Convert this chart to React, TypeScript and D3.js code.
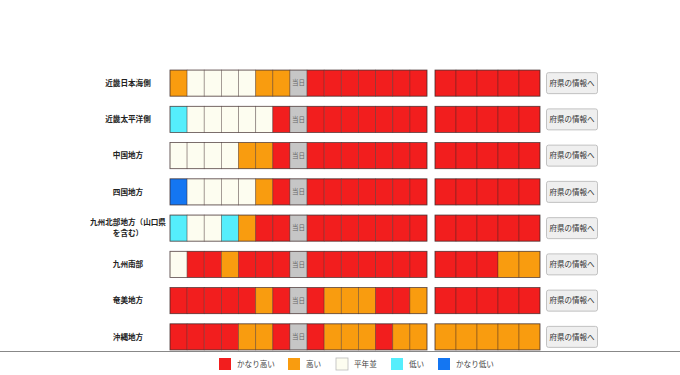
import React from "react";
import * as d3 from "d3";

// levels: 5 かなり高い, 4 高い, 3 平年並, 2 低い, 1 かなり低い, 0 当日
const regions = [
  "近畿日本海側",
  "近畿太平洋側",
  "中国地方",
  "四国地方",
  "九州北部地方（山口県を含む）",
  "九州南部",
  "奄美地方",
  "沖縄地方",
];

const dailyLevels = [
  [4, 3, 3, 3, 3, 4, 4, 0, 5, 5, 5, 5, 5, 5, 5],
  [2, 3, 3, 3, 3, 3, 5, 0, 5, 5, 5, 5, 5, 5, 5],
  [3, 3, 3, 3, 4, 4, 5, 0, 5, 5, 5, 5, 5, 5, 5],
  [1, 3, 3, 3, 3, 4, 5, 0, 5, 5, 5, 5, 5, 5, 5],
  [2, 3, 3, 2, 4, 5, 5, 0, 5, 5, 5, 5, 5, 5, 5],
  [3, 5, 5, 4, 5, 5, 5, 0, 5, 5, 5, 5, 5, 5, 5],
  [5, 5, 5, 5, 5, 4, 5, 0, 5, 4, 4, 4, 5, 5, 4],
  [5, 5, 5, 5, 4, 4, 5, 0, 5, 4, 4, 4, 5, 4, 4],
];

const periodLevels = [
  [5, 5, 5, 5, 5],
  [5, 5, 5, 5, 5],
  [5, 5, 5, 5, 5],
  [5, 5, 5, 5, 5],
  [5, 5, 5, 5, 5],
  [5, 5, 5, 4, 4],
  [5, 5, 5, 5, 5],
  [4, 4, 4, 4, 4],
];

const legendLevels = [5, 4, 3, 2, 1];
const legendNames = ["かなり高い", "高い", "平年並", "低い", "かなり低い"];

const todayLabel = "当日";
const buttonLabel = "府県の情報へ";

const color = d3
  .scaleOrdinal<number, string>()
  .domain([5, 4, 3, 2, 1, 0])
  .range(["#f21e1e", "#f99c0f", "#fdfdf0", "#55eefc", "#1476f2", "#c6c6c6"]);

const font = "'Noto Sans CJK JP', 'Noto Sans', sans-serif";

const wrap = (s: string, n: number) => {
  const out: string[] = [];
  for (let i = 0; i < s.length; i += n) out.push(s.slice(i, i + n));
  return out;
};

const App = () => {
  const width = 680;
  const height = 375;

  const y = d3
    .scaleBand<number>()
    .domain(d3.range(regions.length))
    .range([65, 355])
    .paddingInner(0.28)
    .paddingOuter(0.14);
  const xDay = d3
    .scaleBand<number>()
    .domain(d3.range(dailyLevels[0].length))
    .range([170, 427]);
  const xPer = d3
    .scaleBand<number>()
    .domain(d3.range(periodLevels[0].length))
    .range([435, 540]);
  const legendX = d3
    .scaleOrdinal<number, number>()
    .domain(legendLevels)
    .range([219, 288, 336, 391, 438]);

  const cellStroke = "rgba(60,40,40,0.45)";

  return (
    <svg
      width={width}
      height={height}
      style={{ position: "absolute", left: 0, top: 0, background: "#fff" }}
      fontFamily={font}
    >
      {regions.map((name, r) => {
        const y0 = y(r)!;
        const bh = y.bandwidth();
        const cy = y0 + bh / 2;
        const lines = wrap(name, 10);
        return (
          <g key={name}>
            {lines.map((ln, i) => (
              <text
                key={i}
                x={128}
                y={cy + (i - (lines.length - 1) / 2) * 11}
                dy="0.35em"
                textAnchor="middle"
                fontSize={7.6}
                fontWeight="bold"
                fill="#222"
              >
                {ln}
              </text>
            ))}
            {dailyLevels[r].map((lv, i) => (
              <g key={i}>
                <rect
                  x={xDay(i)}
                  y={y0}
                  width={xDay.bandwidth()}
                  height={bh}
                  fill={color(lv)}
                  stroke={cellStroke}
                  strokeWidth={0.8}
                />
                {lv === 0 && (
                  <text
                    x={xDay(i)! + xDay.bandwidth() / 2}
                    y={cy}
                    dy="0.35em"
                    textAnchor="middle"
                    fontSize={6.5}
                    fill="#666"
                  >
                    {todayLabel}
                  </text>
                )}
              </g>
            ))}
            <rect
              x={170}
              y={y0}
              width={257}
              height={bh}
              fill="none"
              stroke="rgba(60,40,40,0.6)"
              strokeWidth={0.8}
            />
            {periodLevels[r].map((lv, i) => (
              <rect
                key={i}
                x={xPer(i)}
                y={y0}
                width={xPer.bandwidth()}
                height={bh}
                fill={color(lv)}
                stroke={cellStroke}
                strokeWidth={0.8}
              />
            ))}
            <rect
              x={435}
              y={y0}
              width={105}
              height={bh}
              fill="none"
              stroke="rgba(60,40,40,0.6)"
              strokeWidth={0.8}
            />
            <rect
              x={546.5}
              y={cy - 10.5}
              width={51}
              height={21}
              rx={2}
              fill="#efefef"
              stroke="#b4b4b4"
              strokeWidth={0.8}
            />
            <text
              x={572}
              y={cy}
              dy="0.35em"
              textAnchor="middle"
              fontSize={7.5}
              fill="#333"
            >
              {buttonLabel}
            </text>
          </g>
        );
      })}

      <line x1={0} x2={width} y1={351.5} y2={351.5} stroke="#888" strokeWidth={1} />

      {legendLevels.map((lv, i) => (
        <g key={lv} transform={`translate(${legendX(lv)},358)`}>
          <rect
            width={12}
            height={12}
            fill={color(lv)}
            stroke={lv === 3 ? "#bbb" : "none"}
            strokeWidth={0.8}
          />
          <text x={18} y={6} dy="0.35em" fontSize={7.6} fill="#444">
            {legendNames[i]}
          </text>
        </g>
      ))}
    </svg>
  );
};

export default App;
